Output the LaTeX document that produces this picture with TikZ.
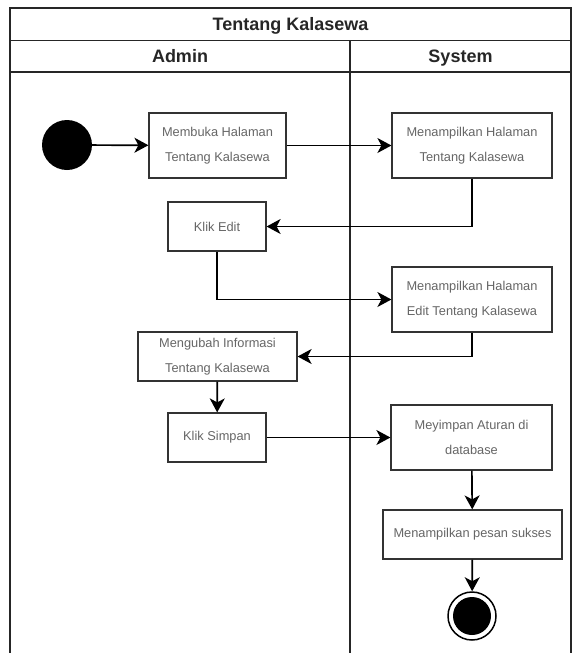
\documentclass[tikz,border=0pt]{standalone}
\usepackage{fontspec}
\setmainfont{Liberation Sans}
\usepackage{tikz}
\usetikzlibrary{arrows.meta, positioning}
\usepackage{xcolor}

\tikzset{
    act/.style={draw=black!80, line width=1.2pt, fill=white, rectangle, align=center,
        text=black!60, font=\fontsize{12.8}{25}\selectfont, inner sep=0pt},
    flow/.style={line width=1.7pt, -{Stealth[length=14pt, width=15pt, inset=4pt]}},
    lane/.style={line width=1.3pt, color=black!85},
    lanetitle/.style={font=\fontsize{18}{20}\selectfont\bfseries, text=black!85,
        text height=13pt, text depth=4pt, inner sep=0pt}
}

\begin{document}
\begin{tikzpicture}[x=1pt, y=-1pt]
            \useasboundingbox (0,0) rectangle (573,653);

            \draw[lane] (10,653) -- (10,8) -- (571,8) -- (571,653);
            \draw[lane] (10,40.5) -- (571,40.5);
            \draw[lane] (10,72) -- (571,72);
            \draw[lane] (350,40.5) -- (350,653);

            \node[lanetitle] (judul) at (290.5,25.5) {Tentang Kalasewa};
            \node[lanetitle] (admin) at (180,57.5) {Admin};
            \node[lanetitle] (system) at (460.5,57.5) {System};

            \node[circle, fill=black, minimum size=50pt, inner sep=0pt] (start) at (67,145) {};

            \node[act, minimum width=137pt, minimum height=65pt] (membuka) at (217.5,145.5) {Membuka Halaman\\Tentang Kalasewa};
            \node[act, minimum width=160pt, minimum height=65pt] (tampil1) at (472,145.5) {Menampilkan Halaman\\Tentang Kalasewa};
            \node[act, minimum width=98pt, minimum height=49pt] (klikedit) at (217,226.5) {Klik Edit};
            \node[act, minimum width=160pt, minimum height=65pt] (tampil2) at (472,299.5) {Menampilkan Halaman\\Edit Tentang Kalasewa};
            \node[act, minimum width=159pt, minimum height=49pt] (ubah) at (217.5,356.5) {Mengubah Informasi\\Tentang Kalasewa};
            \node[act, minimum width=98pt, minimum height=49pt] (simpan) at (217,437.5) {Klik Simpan};
            \node[act, minimum width=161pt, minimum height=65pt] (meyimpan) at (471.5,437.5) {Meyimpan Aturan di\\database};
            \node[act, minimum width=179pt, minimum height=49pt] (pesan) at (472.5,534.5) {Menampilkan pesan sukses};

            \node[circle, draw=black, line width=1.5pt, minimum size=48pt, inner sep=0pt] (end) at (472,616) {};
            \node[circle, fill=black, minimum size=38pt, inner sep=0pt] (endin) at (end.center) {};

            \draw[flow] (start) -- (membuka);
            \draw[flow] (membuka) -- (tampil1);
            \draw[flow] (tampil1.south) |- (klikedit.east);
            \draw[flow] (klikedit.south) |- (tampil2.west);
            \draw[flow] (tampil2.south) |- (ubah.east);
            \draw[flow] (ubah) -- (simpan);
            \draw[flow] (simpan) -- (meyimpan);
            \draw[flow] (meyimpan) -- (pesan);
            \draw[flow] (pesan) -- (end);
        \end{tikzpicture}
\end{document}
